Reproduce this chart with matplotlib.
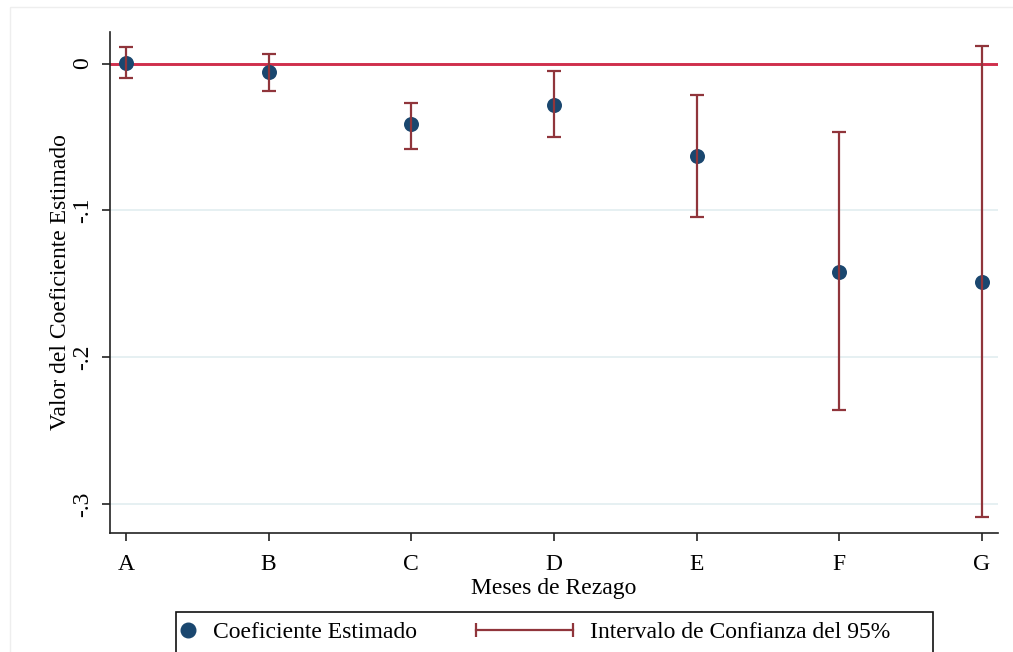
import matplotlib.pyplot as plt
from matplotlib.lines import Line2D
from matplotlib.legend_handler import HandlerBase
from matplotlib.patches import Rectangle

# Coeficientes estimados por meses de rezago, con su intervalo al 95%
meses = ["A", "B", "C", "D", "E", "F", "G"]
coef = [0.0001, -0.0056, -0.0414, -0.0283, -0.0630, -0.1418, -0.1490]
ci_sup = [0.0114, 0.0065, -0.0271, -0.0049, -0.0215, -0.0467, 0.0117]
ci_inf = [-0.0101, -0.0187, -0.0580, -0.0501, -0.1046, -0.2360, -0.3090]
yticks = [0, -0.1, -0.2, -0.3]
ytick_labels = ["0", "-.1", "-.2", "-.3"]

navy = "#1a476f"
maroon = "#90353b"
crimson = "#cf2f4c"
fs = 17

plt.rcParams["font.family"] = ["Liberation Serif", "DejaVu Serif"]

fig = plt.figure(figsize=(10.13, 6.52), dpi=100)
fig.patches.append(Rectangle((10 / 1013, -0.05), 1.1, 1 - 7 / 652 + 0.05,
                             transform=fig.transFigure, fill=False,
                             edgecolor="#eeeeee", linewidth=1.0))
ax = fig.add_axes([110 / 1013, 1 - 533 / 652, 888 / 1013, 501 / 652])

x = list(range(len(meses)))

for y in yticks[1:]:
    ax.axhline(y, color="#e2eef0", linewidth=1.2, zorder=0)
ax.axhline(0, color=crimson, linewidth=2.1, zorder=1)

ax.scatter(x, coef, s=10.8 ** 2, color=navy, zorder=2, linewidths=0)
err_low = [c - lo for c, lo in zip(coef, ci_inf)]
err_up = [hi - c for c, hi in zip(coef, ci_sup)]
ax.errorbar(x, coef, yerr=[err_low, err_up], fmt="none", ecolor=maroon,
            elinewidth=1.6, capsize=5, capthick=1.6, zorder=3)

ax.set_xlim(-0.112, 6.112)
ax.set_ylim(-0.3198, 0.0215)
ax.set_xticks(x)
ax.set_xticklabels(meses)
ax.set_yticks(yticks)
ax.set_yticklabels(ytick_labels, rotation=90, va="center")

for side in ["top", "right"]:
    ax.spines[side].set_visible(False)
for side in ["left", "bottom"]:
    ax.spines[side].set_linewidth(1.2)
    ax.spines[side].set_color("#222222")
ax.tick_params(axis="both", length=6, width=1.2, color="#222222",
               labelsize=fs)
ax.tick_params(axis="x", pad=9)
ax.tick_params(axis="y", pad=6)

ax.set_xlabel("Meses de Rezago", fontsize=fs, labelpad=2)
ax.set_ylabel("Valor del Coeficiente Estimado", fontsize=fs, labelpad=1)


class DotHandler(HandlerBase):
    def create_artists(self, legend, orig_handle, xdescent, ydescent,
                       width, height, fontsize, trans):
        dot = Line2D([4], [height / 2 - ydescent], linestyle="none",
                     marker="o", markersize=10.5, color=navy, transform=trans)
        return [dot]


class RangeHandler(HandlerBase):
    def create_artists(self, legend, orig_handle, xdescent, ydescent,
                       width, height, fontsize, trans):
        yc = height / 2 - ydescent
        line = Line2D([width - 70, width], [yc, yc], color=maroon,
                      linewidth=1.6, marker="|", markersize=10,
                      markeredgewidth=1.6, transform=trans)
        return [line]


h_coef = Line2D([], [])
h_ci = Line2D([], [])
leg = fig.legend([h_coef, h_ci],
                 ["Coeficiente Estimado", "Intervalo de Confianza del 95%"],
                 loc="center left", bbox_to_anchor=(182 / 1013, 1 - 632 / 652),
                 ncol=2, fontsize=fs, frameon=False,
                 handler_map={h_coef: DotHandler(), h_ci: RangeHandler()},
                 handlelength=0.6, handletextpad=0.72, columnspacing=6.0,
                 borderpad=0, borderaxespad=0)

# marco de la leyenda
fig.patches.append(Rectangle((176 / 1013, -0.05), 757 / 1013, 1 - 612 / 652 + 0.05,
                             transform=fig.transFigure, fill=False,
                             edgecolor="#111111", linewidth=1.2))

fig.savefig("out.png", dpi=100)
